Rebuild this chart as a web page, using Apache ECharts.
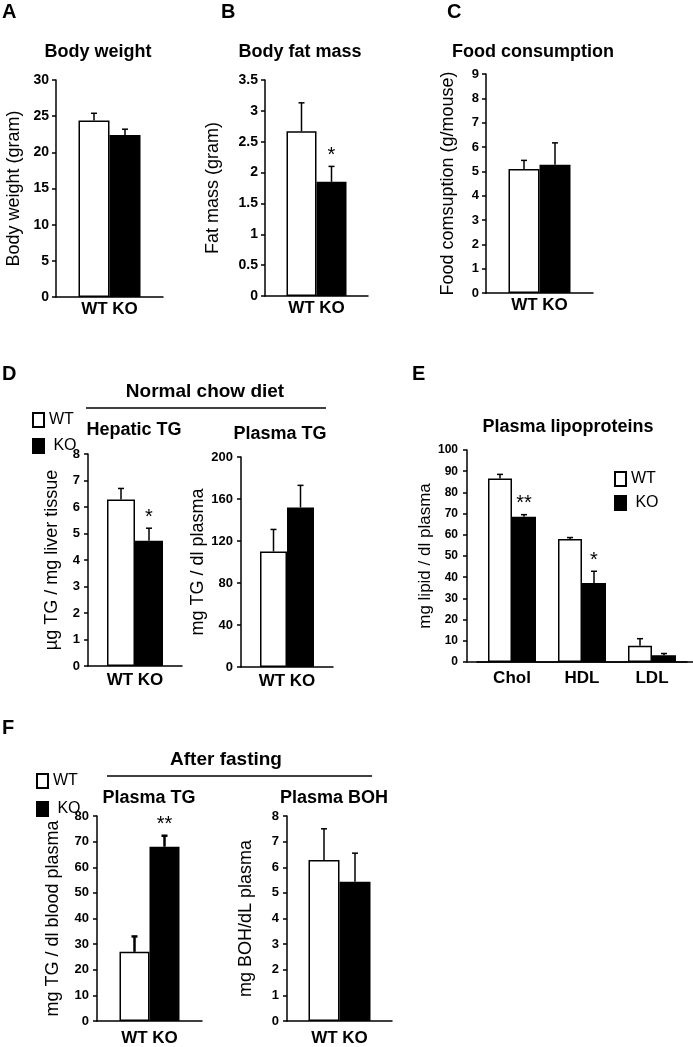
<!DOCTYPE html>
<html><head><meta charset="utf-8">
<script src="https://cdn.jsdelivr.net/npm/echarts@6/dist/echarts.min.js"></script>
<style>html,body{margin:0;padding:0;background:#fff}#c{width:693px;height:1047px}</style>
</head><body><div id="c"></div>
<script>
// ---------- DATA ----------
const groups = ['WT', 'KO'];
const pairCategory = ['WT KO'];
// A: body weight (gram)
const bodyWeightMean = [24.4, 22.4];
const bodyWeightErr  = [1.0, 0.8];
const bodyWeightSig  = ['', ''];
// B: body fat mass (gram)
const fatMassMean = [2.67, 1.85];
const fatMassErr  = [0.46, 0.25];
const fatMassSig  = ['', '*'];
// C: food consumption (g/mouse)
const foodMean = [5.1, 5.27];
const foodErr  = [0.35, 0.9];
const foodSig  = ['', ''];
// D: hepatic TG (µg / mg liver)
const hepaticTGMean = [6.28, 4.73];
const hepaticTGErr  = [0.42, 0.47];
const hepaticTGSig  = ['', '*'];
// D: plasma TG (mg / dl)
const plasmaTGMean = [110, 152];
const plasmaTGErr  = [21, 21];
const plasmaTGSig  = ['', ''];
// E: plasma lipoproteins
const lipoCategories = ['Chol', 'HDL', 'LDL'];
const lipoWTMean = [86.5, 58.0, 7.7];
const lipoWTErr  = [2.0, 0.7, 3.3];
const lipoKOMean = [68.5, 37.3, 3.2];
const lipoKOErr  = [1.0, 5.5, 0.8];
const lipoWTSig  = ['', '', ''];
const lipoKOSig  = ['**', '*', ''];
// F: after fasting plasma TG (mg / dl)
const fastTGMean = [27, 68];
const fastTGErr  = [6, 4.3];
const fastTGSig  = ['', '**'];
// F: plasma BOH (mg / dL)
const fastBOHMean = [6.28, 5.43];
const fastBOHErr  = [1.22, 1.12];
const fastBOHSig  = ['', ''];

// ---------- STYLE / LAYOUT ----------
const FONT = '"Liberation Sans", Arial, Helvetica, sans-serif';
const grids = [], xAxes = [], yAxes = [], series = [];
const WT_STYLE = { color: '#ffffff', borderColor: '#000', borderWidth: 1.5 };
const KO_STYLE = { color: '#000000', borderColor: '#000', borderWidth: 1.5 };

function errSeries(gi, name, points, barW, sign, sigs, lw) {
  return {
    type: 'custom', name: name + ' error', xAxisIndex: gi, yAxisIndex: gi, z: 5,
    silent: true, legendHoverLink: false,
    data: points,
    encode: { x: 0, y: 1 },
    renderItem: function (params, api) {
      const idx = api.value(0), m = api.value(1), e = api.value(2);
      const base = api.coord([idx, m]);
      const top = api.coord([idx, m + e]);
      const x = base[0] + sign * barW / 2;
      const children = [
        { type: 'line', shape: { x1: x, y1: base[1], x2: x, y2: top[1] }, style: { stroke: '#000', lineWidth: lw } },
        { type: 'line', shape: { x1: x - 3, y1: top[1], x2: x + 3, y2: top[1] }, style: { stroke: '#000', lineWidth: lw } }
      ];
      const s = sigs[params.dataIndex];
      if (s) children.push({ type: 'text', style: { text: s, x: x, y: top[1] - 1, textAlign: 'center', textVerticalAlign: 'bottom', font: '20px ' + FONT, fill: '#000' } });
      return { type: 'group', children: children };
    }
  };
}

function addPanel(o) {
  const gi = grids.length;
  grids.push({ left: o.left, top: o.top, width: o.width, height: o.height, containLabel: false });
  xAxes.push({
    type: 'category', gridIndex: gi, data: o.cats,
    axisLine: { lineStyle: { color: '#000', width: 1.5 } },
    axisTick: { show: false },
    axisLabel: { color: '#000', fontFamily: FONT, fontWeight: 'bold', fontSize: 17, margin: o.catMargin }
  });
  yAxes.push({
    type: 'value', gridIndex: gi, min: 0, max: o.max, interval: o.interval, offset: o.yOffset || 0,
    name: o.name, nameLocation: 'middle', nameGap: o.nameGap,
    nameTextStyle: { color: '#000', fontFamily: FONT, fontSize: o.nameSize || 18 },
    axisLine: { show: true, lineStyle: { color: '#000', width: 1.5 } },
    axisTick: { show: true, length: 4, lineStyle: { color: '#000', width: 1.5 } },
    axisLabel: { color: '#000', fontFamily: FONT, fontWeight: 'bold', fontSize: o.tickSize, margin: o.tickMargin },
    splitLine: { show: false }
  });
  series.push({ type: 'bar', name: 'WT', xAxisIndex: gi, yAxisIndex: gi, data: o.wt, barWidth: o.barW, barGap: '0%', itemStyle: WT_STYLE, silent: true });
  series.push({ type: 'bar', name: 'KO', xAxisIndex: gi, yAxisIndex: gi, data: o.ko, barWidth: o.barW, barGap: '0%', itemStyle: KO_STYLE, silent: true });
  series.push(errSeries(gi, 'WT', o.wt.map((v, i) => [i, v, o.wtErr[i]]), o.barW, -1, o.wtSig, o.lw || 1.5));
  series.push(errSeries(gi, 'KO', o.ko.map((v, i) => [i, v, o.koErr[i]]), o.barW, 1, o.koSig, o.lw || 1.5));
}

function addPair(o, mean, err, sig) {
  o.cats = pairCategory;
  o.wt = [mean[0]]; o.ko = [mean[1]];
  o.wtErr = [err[0]]; o.koErr = [err[1]];
  o.wtSig = [sig[0]]; o.koSig = [sig[1]];
  addPanel(o);
}

// A
addPair({ left: 56, top: 80, width: 107, height: 217, max: 30, interval: 5, barW: 31, tickSize: 14, tickMargin: 7, catMargin: 4, name: 'Body weight (gram)', nameGap: 33, nameSize: 18 }, bodyWeightMean, bodyWeightErr, bodyWeightSig);
// B
addPair({ left: 265, top: 80, width: 103, height: 216, max: 3.5, interval: 0.5, barW: 30, tickSize: 14, tickMargin: 7, catMargin: 4, name: 'Fat mass (gram)', nameGap: 43, nameSize: 18 }, fatMassMean, fatMassErr, fatMassSig);
// C
addPair({ left: 486, top: 74, width: 107, height: 219, max: 9, interval: 1, barW: 31, tickSize: 13, tickMargin: 7, catMargin: 4, name: 'Food comsuption (g/mouse)', nameGap: 29, nameSize: 18 }, foodMean, foodErr, foodSig);
// D1
addPair({ left: 88, top: 454, width: 94, height: 212, max: 8, interval: 1, barW: 28, tickSize: 13, tickMargin: 8, catMargin: 6, name: 'µg TG / mg liver tissue', nameGap: 27, nameSize: 18 }, hepaticTGMean, hepaticTGErr, hepaticTGSig);
// D2
addPair({ left: 241, top: 457, width: 92, height: 210, max: 200, interval: 40, barW: 27, tickSize: 13, tickMargin: 8, catMargin: 6, name: 'mg TG / dl plasma', nameGap: 30, nameSize: 18 }, plasmaTGMean, plasmaTGErr, plasmaTGSig);
// E
addPanel({ left: 477, top: 450, width: 210, height: 212, max: 100, interval: 10, yOffset: 10, barW: 24, tickSize: 12, tickMargin: 9, catMargin: 8,
  name: 'mg lipid / dl plasma', nameGap: 31, nameSize: 17,
  cats: lipoCategories, wt: lipoWTMean, ko: lipoKOMean, wtErr: lipoWTErr, koErr: lipoKOErr, wtSig: lipoWTSig, koSig: lipoKOSig });
// F1
addPair({ left: 97, top: 816, width: 105, height: 211, max: 80, interval: 10, barW: 30, tickSize: 13, tickMargin: 8, catMargin: 9, name: 'mg TG / dl blood plasma', nameGap: 35, nameSize: 18, lw: 2.5 }, fastTGMean, fastTGErr, fastTGSig);
// F2
addPair({ left: 287, top: 816, width: 105, height: 210, max: 8, interval: 1, barW: 31, tickSize: 13, tickMargin: 8, catMargin: 9, name: 'mg BOH/dL plasma', nameGap: 32, nameSize: 18 }, fastBOHMean, fastBOHErr, fastBOHSig);

// ---------- TEXT / DECORATION ----------
function txt(s, x, y, size, bold, align) {
  return { type: 'text', x: x, y: y, style: { text: s, font: (bold ? 'bold ' : '') + size + 'px ' + FONT, fill: '#000', textAlign: align || 'center', textVerticalAlign: 'middle' } };
}
function hline(x1, x2, y) {
  return { type: 'line', shape: { x1: x1, y1: y, x2: x2, y2: y }, style: { stroke: '#000', lineWidth: 1.5 } };
}
const graphics = [
  txt('A', 2, 12, 20, true, 'left'), txt('B', 221, 12, 20, true, 'left'), txt('C', 447, 12, 20, true, 'left'),
  txt('D', 2, 374, 20, true, 'left'), txt('E', 412, 374, 20, true, 'left'), txt('F', 2, 728, 20, true, 'left'),
  txt('Body weight', 98, 52, 18, true), txt('Body fat mass', 300, 52, 18, true), txt('Food consumption', 533, 52, 18, true),
  txt('Normal chow diet', 205, 392, 19, true), hline(86, 326, 408),
  txt('Hepatic TG', 134, 430, 18, true), txt('Plasma TG', 280, 434, 18, true),
  txt('Plasma lipoproteins', 568, 427, 18, true),
  hline(467, 693, 662),
  txt('After fasting', 226, 760, 19, true), hline(107, 372, 776),
  txt('Plasma TG', 149, 798, 18, true), txt('Plasma BOH', 334, 798, 18, true)
];

function legendAt(left, top, gap) {
  return { left: left, top: top, orient: 'vertical', itemWidth: 11, itemHeight: 14, itemGap: gap, selectedMode: false,
    icon: 'rect', data: groups, textStyle: { color: '#000', fontFamily: FONT, fontSize: 16 },
    formatter: n => n === 'KO' ? ' KO' : n };
}

const chart = echarts.init(document.getElementById('c'), null, { renderer: 'canvas' });
chart.setOption({
  animation: false,
  backgroundColor: '#fff',
  legend: [legendAt(27, 407, 10), legendAt(609, 466, 8), legendAt(31, 768, 12)],
  grid: grids, xAxis: xAxes, yAxis: yAxes, series: series,
  graphic: graphics
});
</script></body></html>
